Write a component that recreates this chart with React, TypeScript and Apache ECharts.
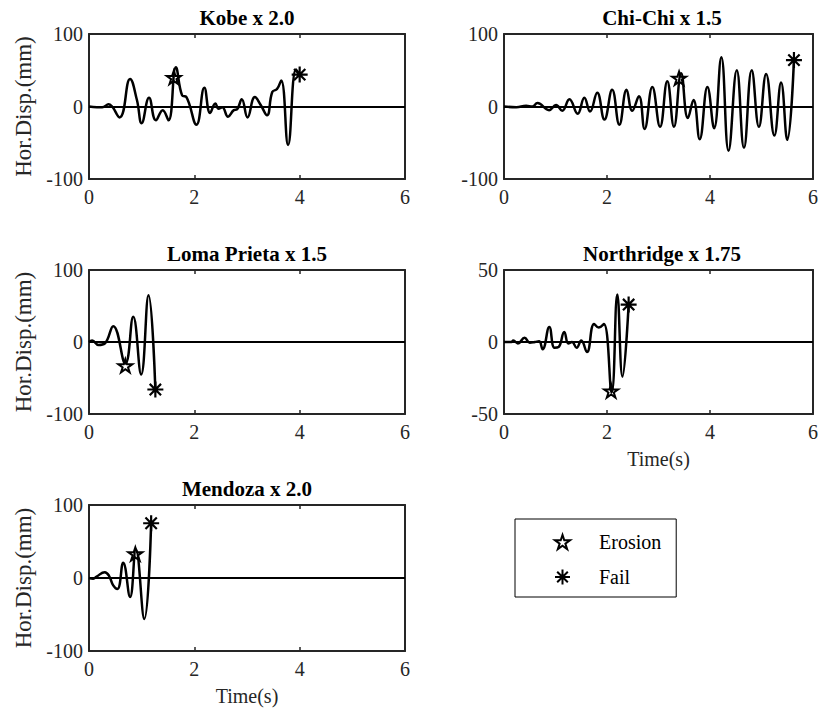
import React, { useEffect, useRef } from 'react';
import * as echarts from 'echarts';

const FONT = "'Liberation Serif', 'Times New Roman', serif";

const titles = ['Kobe x 2.0', 'Chi-Chi x 1.5', 'Loma Prieta x 1.5', 'Northridge x 1.75', 'Mendoza x 2.0'];

const kobeTime = [0, 0.15, 0.25, 0.37, 0.58, 0.78, 0.91, 1.0, 1.14, 1.27, 1.4, 1.51, 1.65, 1.77, 1.85, 2.04, 2.19, 2.3, 2.4, 2.46, 2.53, 2.64, 2.75, 2.81, 2.9, 3.01, 3.15, 3.26, 3.38, 3.48, 3.57, 3.65, 3.78, 3.93, 4.0];
const kobeDisp = [0, -1, -1, 3, -15, 38, 9, -23, 12, -19, -5, -19, 54, 15, 13, -25, 26, -9, 4, -3, -1, -14, -5, -4, 10, -15, 13, 2, -12, 20, 24, 36, -53, 51, 44];

const chichiTime = [0, 0.24, 0.43, 0.55, 0.65, 0.875, 1.01, 1.13, 1.27, 1.43, 1.56, 1.67, 1.81, 1.95, 2.1, 2.24, 2.38, 2.49, 2.62, 2.73, 2.88, 3.03, 3.17, 3.3, 3.44, 3.57, 3.68, 3.8, 3.95, 4.08, 4.22, 4.36, 4.52, 4.66, 4.81, 4.95, 5.09, 5.25, 5.38, 5.5, 5.63];
const chichiDisp = [0, -1, 1, 0, 5, -5, 2, -6, 10, -10, 12, -7, 19, -18, 23, -25, 23, -6, 14, -31, 27, -28, 35, -28, 46, -16, 9, -45, 27, -30, 68, -61, 50, -57, 50, -28, 45, -40, 33, -46, 64];

const lomaTime = [0, 0.06, 0.18, 0.3, 0.46, 0.69, 0.84, 0.99, 1.13, 1.26];
const lomaDisp = [0, 2, -4, -2, 22, -30, 35, -45, 65, -66];

const northTime = [0, 0.145, 0.18, 0.27, 0.4, 0.5, 0.6, 0.68, 0.75, 0.88, 0.98, 1.06, 1.17, 1.25, 1.32, 1.41, 1.5, 1.61, 1.75, 1.84, 1.94, 2.09, 2.2, 2.3, 2.42];
const northDisp = [0, 0, 1, -1, 3, -0.5, 0, 0.5, -5, 10.5, -4, -3.5, 7, -1, 0, -4, 1, -7, 12.5, 10, 12.5, -35, 33, -24, 26];

const mendozaTime = [0, 0.08, 0.146, 0.3, 0.38, 0.46, 0.54, 0.65, 0.78, 0.89, 1.05, 1.18];
const mendozaDisp = [0, -1, 2, 8, 3, -10, -15, 21, -26, 39, -56, 75];

const erosionTime = [1.61, 3.4, 0.69, 2.08, 0.88];
const erosionDisp = [40, 39, -33, -34, 33];
const failTime = [4.0, 5.63, 1.26, 2.42, 1.18];
const failDisp = [44, 64, -66, 26, 75];

const yLimit = [100, 100, 100, 50, 100];
const timeMin = 0;
const timeMax = 6;
const timeStep = 2;

const traces = [
  [kobeTime, kobeDisp],
  [chichiTime, chichiDisp],
  [lomaTime, lomaDisp],
  [northTime, northDisp],
  [mendozaTime, mendozaDisp],
];

const GRIDS = [
  { left: 89, top: 34, width: 316, height: 145 },
  { left: 504, top: 34, width: 316, height: 145 },
  { left: 89, top: 270, width: 316, height: 144 },
  { left: 504, top: 270, width: 316, height: 144 },
  { left: 89, top: 505, width: 316, height: 146 },
];

const STAR = 'path://M10,0L12.245,6.91L19.51,6.91L13.633,11.18L15.878,18.09L10,13.82L4.122,18.09L6.367,11.18L0.49,6.91L7.755,6.91Z';
const ASTER = 'path://M5,0L5,10M0,5L10,5M1.46,1.46L8.54,8.54M8.54,1.46L1.46,8.54';

const AX = '#262626';

const tickRich = { t: { fontFamily: FONT, fontSize: 20, color: AX } };

function buildOption() {
  const grid: any[] = [];
  const xAxis: any[] = [];
  const yAxis: any[] = [];
  const series: any[] = [];
  const title: any[] = [];

  GRIDS.forEach((g, i) => {
    grid.push({ ...g, containLabel: false });
    title.push({
      text: titles[i],
      left: g.left + g.width / 2,
      top: g.top - 27,
      textAlign: 'center',
      padding: 0,
      textStyle: { fontFamily: FONT, fontSize: 21, fontWeight: 'bold', color: '#000' },
    });
    const showTimeName = i === 3 || i === 4;
    xAxis.push({
      type: 'value', gridIndex: i, min: timeMin, max: timeMax, interval: timeStep, position: 'bottom',
      axisLine: { show: true, onZero: false, lineStyle: { color: AX, width: 2 } },
      axisTick: { show: true, inside: true, length: 4, lineStyle: { color: AX, width: 1.5 } },
      axisLabel: {
        show: true, margin: 8, fontFamily: FONT, fontSize: 20, color: AX,
        formatter: (v: number) => '{t|' + v + '}', rich: tickRich,
      },
      splitLine: { show: false },
      name: showTimeName ? 'Time(s)' : '',
      nameLocation: 'middle', nameGap: 35,
      nameTextStyle: { fontFamily: FONT, fontSize: 20, color: AX },
    });
    xAxis.push({
      type: 'value', gridIndex: i, min: timeMin, max: timeMax, interval: timeStep, position: 'top',
      axisLine: { show: true, onZero: false, lineStyle: { color: AX, width: 2 } },
      axisTick: { show: true, inside: true, length: 4, lineStyle: { color: AX, width: 1.5 } },
      axisLabel: { show: false },
      splitLine: { show: false },
    });
    const lim = yLimit[i];
    const showDispName = i % 2 === 0;
    yAxis.push({
      type: 'value', gridIndex: i, min: -lim, max: lim, interval: lim, position: 'left',
      axisLine: { show: true, onZero: false, lineStyle: { color: AX, width: 2 } },
      axisTick: { show: true, inside: true, length: 4, lineStyle: { color: AX, width: 1.5 } },
      axisLabel: {
        show: true, margin: 6, fontFamily: FONT, fontSize: 20, color: AX,
        formatter: (v: number) => '{t|' + v + '}', rich: tickRich,
      },
      splitLine: { show: false },
      name: showDispName ? 'Hor.Disp.(mm)' : '',
      nameLocation: 'middle', nameGap: 54,
      nameTextStyle: { fontFamily: FONT, fontSize: 23, color: AX },
    });
    yAxis.push({
      type: 'value', gridIndex: i, min: -lim, max: lim, interval: lim, position: 'right',
      axisLine: { show: true, onZero: false, lineStyle: { color: AX, width: 2 } },
      axisTick: { show: true, inside: true, length: 4, lineStyle: { color: AX, width: 1.5 } },
      axisLabel: { show: false },
      splitLine: { show: false },
    });
    const [ts, ds] = traces[i];
    series.push({
      type: 'line', name: titles[i], xAxisIndex: 2 * i, yAxisIndex: 2 * i,
      data: ts.map((t, k) => [t, ds[k]]),
      showSymbol: false, symbol: 'none', smooth: 0.45,
      lineStyle: { color: '#000', width: 2.5 },
      markLine: {
        silent: true, symbol: ['none', 'none'], label: { show: false },
        lineStyle: { color: '#000', width: 2, type: 'solid' },
        data: [{ yAxis: 0 }],
      },
      z: 2,
    });
  });
  GRIDS.forEach((_g, i) => {
    series.push({
      type: 'scatter', name: 'Erosion', xAxisIndex: 2 * i, yAxisIndex: 2 * i,
      data: [[erosionTime[i], erosionDisp[i]]],
      symbol: STAR, symbolSize: 14, symbolKeepAspect: true,
      itemStyle: { color: 'rgba(0,0,0,0)', borderColor: '#000', borderWidth: 2, opacity: 1 },
      z: 5,
    });
    series.push({
      type: 'scatter', name: 'Fail', xAxisIndex: 2 * i, yAxisIndex: 2 * i,
      data: [[failTime[i], failDisp[i]]],
      symbol: ASTER, symbolSize: 16,
      itemStyle: { color: 'rgba(0,0,0,0)', borderColor: '#000', borderWidth: 2.2, opacity: 1 },
      z: 5,
    });
  });

  return {
    animation: false,
    backgroundColor: '#fff',
    textStyle: { fontFamily: FONT },
    title,
    grid,
    xAxis,
    yAxis,
    series,
    legend: {
      show: true,
      data: ['Erosion', 'Fail'],
      orient: 'vertical',
      left: 515,
      top: 519,
      padding: [13, 15, 10, 39],
      itemWidth: 15,
      itemHeight: 15,
      itemGap: 15,
      borderColor: '#000',
      borderWidth: 1,
      selectedMode: false,
      itemStyle: { opacity: 1 },
      formatter: (name: string) => '{l|' + name + '}',
      textStyle: {
        fontFamily: FONT, fontSize: 20, color: '#000',
        rich: { l: { fontFamily: FONT, fontSize: 20, color: '#000', padding: [0, 0, 0, 24] } },
      },
    },
  };
}

export default function App() {
  const ref = useRef<HTMLDivElement>(null);
  useEffect(() => {
    if (!ref.current) return;
    const chart = echarts.init(ref.current, undefined, { renderer: 'svg' });
    chart.setOption(buildOption() as any);
    return () => chart.dispose();
  }, []);
  return (
    <div
      ref={ref}
      style={{ position: 'fixed', left: 0, top: 0, width: 821, height: 713, background: '#fff' }}
    />
  );
}
